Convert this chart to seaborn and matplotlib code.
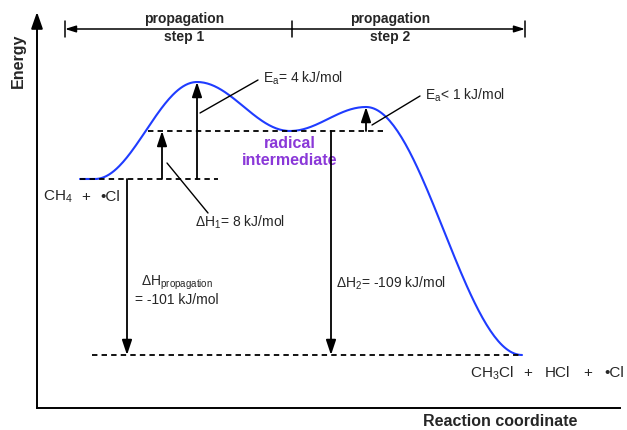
import numpy as np
import pandas as pd
import seaborn as sns
import matplotlib
matplotlib.use("Agg")
import matplotlib.pyplot as plt

# Schematic energy profile (diagram units; reactant level = 0)
stage_names = ["start", "rise", "TS1", "intermediate", "TS2", "products"]
stage_x = [43, 58, 160, 253, 329, 485]
stage_energy = [0, 0, 97, 48, 72, -176]

# Horizontal reference levels
level_names = ["reactants", "intermediate", "products"]
level_energy = [0, 48, -176]
level_x0 = [43, 111, 55]
level_x1 = [181, 346, 485]

# Step labels and the values printed on the diagram
step_labels = ["propagation\nstep 1", "propagation\nstep 2"]
step_bounds = [28, 255, 488]
step_label_x = [147, 353]
ea1_text = "E$_{\\rm a}$= 4 kJ/mol"
ea2_text = "E$_{\\rm a}$< 1 kJ/mol"
dh1_text = "ΔH$_{\\rm 1}$= 8 kJ/mol"
dh2_text = "ΔH$_{\\rm 2}$= -109 kJ/mol"
dhp_text = ["ΔH$_{\\rm propagation}$", "= -101 kJ/mol"]
reactant_terms = ["CH$_{\\rm 4}$", "+", "•Cl"]
product_terms = ["CH$_{\\rm 3}$Cl", "+", "HCl", "+", "•Cl"]
intermediate_text = "radical\nintermediate"

sns.set_style("white")
plt.rcParams["font.family"] = ["Liberation Sans", "DejaVu Sans"]
plt.rcParams["mathtext.fontset"] = "custom"
plt.rcParams["mathtext.rm"] = "Liberation Sans"
plt.rcParams["mathtext.it"] = "Liberation Sans:italic"
plt.rcParams["mathtext.bf"] = "Liberation Sans:bold"

fig = plt.figure(figsize=(6.27, 4.30), dpi=100)
ax = fig.add_axes([37 / 627, 22 / 430, 583 / 627, 396 / 430])
ax.set_xlim(0, 583)
ax.set_ylim(-229, 167)
ax.set_xticks([])
ax.set_yticks([])
for s in ["top", "right", "left"]:
    ax.spines[s].set_visible(False)
ax.spines["bottom"].set_color("black")
ax.spines["bottom"].set_linewidth(1.4)

# Build a smooth profile: cosine easing between consecutive stationary points
xs, ys = [], []
for i in range(len(stage_x) - 1):
    x0, x1 = stage_x[i], stage_x[i + 1]
    e0, e1 = stage_energy[i], stage_energy[i + 1]
    t = np.linspace(0, 1, 80, endpoint=(i == len(stage_x) - 2))
    xs.append(x0 + (x1 - x0) * t)
    ys.append(e0 + (e1 - e0) * (1 - np.cos(np.pi * t)) / 2)
profile = pd.DataFrame({"coord": np.concatenate(xs), "energy": np.concatenate(ys)})
sns.lineplot(data=profile, x="coord", y="energy", sort=False, color="#1f3cff",
             lw=1.5, ax=ax)
ax.set_xlabel("")
ax.set_ylabel("")

# Dashed energy levels
for x0, x1, e in zip(level_x0, level_x1, level_energy):
    ax.plot([x0, x1], [e, e], color="black", lw=1.3, ls=(0, (3, 2.3)), zorder=3)

arrow_kw = dict(arrowstyle="-|>,head_length=0.9,head_width=0.3", color="black",
                lw=1.3, shrinkA=0, shrinkB=0, mutation_scale=10)

def varrow(x, e0, e1):
    ax.annotate("", xy=(x, e1), xytext=(x, e0), arrowprops=arrow_kw, zorder=4)

E = dict(zip(stage_names, stage_energy))
varrow(125, 0, E["intermediate"])
varrow(160, 0, E["TS1"])
varrow(329, E["intermediate"], E["TS2"])
varrow(90, 0, E["products"])
varrow(294, E["intermediate"], E["products"])

# Leader lines
lead = dict(color="black", lw=1.0)
ax.plot([221, 163], [99, 66], **lead)
ax.plot([383, 335], [83, 54], **lead)
ax.plot([130, 171], [16, -34], **lead)

fs = 10
ax.text(226, 101, ea1_text, fontsize=fs, va="center", ha="left")
ax.text(388, 84, ea2_text, fontsize=fs, va="center", ha="left")
ax.text(158, -43, dh1_text, fontsize=fs, va="center", ha="left")
ax.text(140, -104, dhp_text[0], fontsize=fs, va="center", ha="center")
ax.text(140, -121, dhp_text[1], fontsize=fs, va="center", ha="center")
ax.text(299, -104, dh2_text, fontsize=fs, va="center", ha="left")

# Species labels, one term at a time
for term, x, ha in zip(reactant_terms, [6, 49, 63], ["left", "center", "left"]):
    ax.text(x, -18, term, fontsize=11, va="center", ha=ha)
for term, x, ha in zip(product_terms, [433, 491, 508, 551, 567],
                       ["left", "center", "left", "center", "left"]):
    ax.text(x, -194, term, fontsize=11, va="center", ha=ha, clip_on=False)

ax.text(253, 27, intermediate_text, fontsize=11.5, fontweight="bold",
        color="#8a38d8", va="center", ha="center", linespacing=1.15)

# Step bracket across the top
yb = 150
small = dict(arrowstyle="-|>,head_length=0.8,head_width=0.25", color="black",
             lw=1.1, shrinkA=0, shrinkB=0, mutation_scale=8)
ax.annotate("", xy=(step_bounds[0], yb), xytext=(step_bounds[1], yb), arrowprops=small)
ax.annotate("", xy=(step_bounds[2], yb), xytext=(step_bounds[1], yb), arrowprops=small)
for xb in step_bounds:
    ax.plot([xb, xb], [yb - 8, yb + 8], color="black", lw=1.1)
for lab, xl in zip(step_labels, step_label_x):
    ax.text(xl, yb + 1, lab, fontsize=10, fontweight="bold", ha="center",
            va="center", linespacing=1.3)

# Vertical energy axis with arrowhead
ax.annotate("", xy=(0, 1), xytext=(0, 0), xycoords="axes fraction",
            arrowprops=dict(arrowstyle="-|>,head_length=1.0,head_width=0.35",
                            color="black", lw=1.4, shrinkA=0, shrinkB=0,
                            mutation_scale=10), annotation_clip=False)

fig.text(18 / 627, 1 - 61 / 430, "Energy", rotation=90, fontsize=11.5,
         fontweight="bold", ha="center", va="center")
fig.text(500 / 627, 1 - 422 / 430, "Reaction coordinate", fontsize=11.5,
         fontweight="bold", ha="center", va="center")

fig.savefig("out.png", dpi=100)
